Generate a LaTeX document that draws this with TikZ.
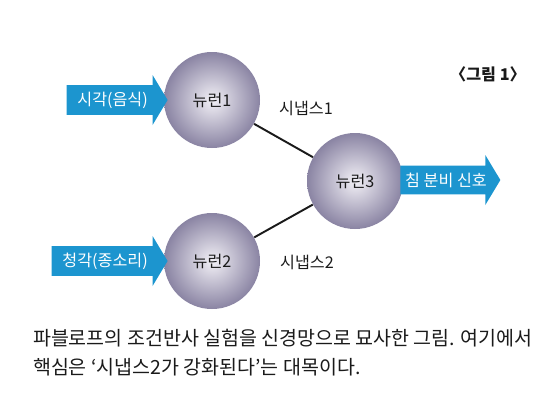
\documentclass[tikz,border=0pt]{standalone}
\usepackage{fontspec}
\setmainfont{Noto Sans CJK KR}
\usetikzlibrary{shapes.arrows,positioning}
\definecolor{ink}{HTML}{1A1A1A}
\definecolor{arrowfill}{HTML}{1C95CF}
\definecolor{ballout}{HTML}{8A84A3}
\definecolor{ballin}{HTML}{F2F0F6}
\newcommand{\nine}{\fontsize{9.2}{11}\selectfont}
\newcommand{\capt}{\fontsize{11.1}{16.4}\selectfont}
\tikzset{
 every node/.append style={font=\nine,text=ink},
 neuron/.style={circle,minimum size=19.2mm,inner sep=0pt,inner color=ballin,outer color=ballout},
 signal/.style={single arrow,fill=arrowfill,text=white,inner sep=1pt,minimum width=10mm,single arrow head extend=1.4mm,single arrow tip angle=118},
 synapse/.style={draw=ink,line width=1.1pt},
 word/.style={inner sep=1pt},
}
\begin{document}
\begin{tikzpicture}

\useasboundingbox (0,0) rectangle (11,-8.16);
\node[neuron] (n1) at (4.24,-2.0) {뉴런1};
\node[neuron] (n2) at (4.24,-5.22) {뉴런2};
\node[neuron] (n3) at (7.1,-3.62) {뉴런3};
\node[signal,minimum height=20.2mm,anchor=tip] (sight) at (3.36,-2.0) {시각(음식)};
\node[signal,minimum height=23.2mm,anchor=tip] (hearing) at (3.36,-5.22) {청각(종소리)};
\node[signal,minimum height=20mm,anchor=tail] (saliva) at (8.0,-3.6) {침 분비 신호};
\draw[synapse] (n1) -- (n3);
\draw[synapse] (n2) -- (n3);
\node[word] (s1) at (6.12,-2.16) {시냅스1};
\node[word] (s2) at (6.14,-5.24) {시냅스2};
\node[word,font=\nine\bfseries] (fig) at (9.76,-1.48) {〈그림 1〉};
\node[word,font=\capt,align=left,anchor=west] (caption) at (0.62,-7.06) {파블로프의 조건반사 실험을 신경망으로 묘사한 그림. 여기에서\\핵심은 ‘시냅스2가 강화된다’는 대목이다.};

\end{tikzpicture}
\end{document}
